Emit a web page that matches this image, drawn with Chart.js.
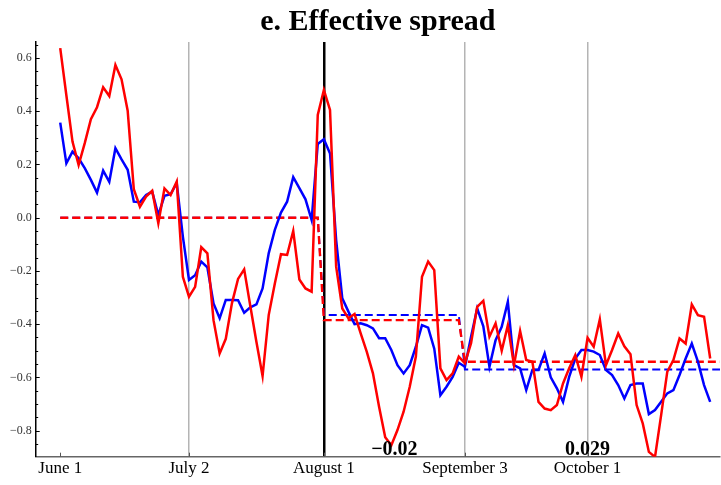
<!DOCTYPE html>
<html>
<head>
<meta charset="utf-8">
<style>
  body { margin: 0; background: #fff; }
  canvas { display: block; }
</style>
</head>
<body>
<canvas id="spreadChart" width="721" height="485"></canvas>
<script src="https://cdn.jsdelivr.net/npm/chart.js"></script>
<script>
  (() => {
    // trading-day index -> date label
    const dateTicks = [0, 21, 43, 66, 86]
    const dateLabels = ['June 1', 'July 2', 'August 1', 'September 3', 'October 1']
    const eventIdx = 43

    const redSeries = [
      0.637, 0.46, 0.286, 0.198, 0.28, 0.37, 0.415, 0.49, 0.457, 0.574,
      0.52, 0.402, 0.107, 0.041, 0.079, 0.101, -0.021, 0.11, 0.085, 0.136,
      -0.222, -0.297, -0.26, -0.111, -0.134, -0.385, -0.51, -0.455, -0.322, -0.23,
      -0.194, -0.332, -0.467, -0.595, -0.366, -0.247, -0.137, -0.14, -0.05, -0.232,
      -0.266, -0.278, 0.386, 0.48, 0.405, -0.184, -0.341, -0.378, -0.362, -0.435,
      -0.504, -0.585, -0.71, -0.825, -0.855, -0.798, -0.729, -0.635, -0.522, -0.222,
      -0.165, -0.197, -0.566, -0.61, -0.585, -0.522, -0.547, -0.472, -0.335, -0.312,
      -0.447, -0.397, -0.5, -0.404, -0.554, -0.426, -0.535, -0.541, -0.692, -0.717,
      -0.723, -0.704, -0.623, -0.566, -0.516, -0.598, -0.451, -0.485, -0.382, -0.554,
      -0.497, -0.435, -0.483, -0.513, -0.704, -0.773, -0.88, -0.899, -0.742, -0.579,
      -0.535, -0.454, -0.473, -0.326, -0.366, -0.372, -0.529
    ]
    const blueSeries = [
      0.357, 0.204, 0.248, 0.223, 0.186, 0.142, 0.094, 0.177, 0.135, 0.261,
      0.219, 0.18, 0.06, 0.058, 0.085, 0.098, 0.01, 0.082, 0.088, 0.13,
      -0.071, -0.234, -0.216, -0.165, -0.187, -0.322, -0.378, -0.309, -0.309, -0.31,
      -0.357, -0.337, -0.326, -0.266, -0.134, -0.046, 0.019, 0.06, 0.152, 0.111,
      0.069, -0.009, 0.277, 0.295, 0.241, -0.084, -0.303, -0.353, -0.4, -0.397,
      -0.404, -0.416, -0.453, -0.453, -0.497, -0.554, -0.585, -0.554, -0.485, -0.404,
      -0.413, -0.492, -0.667, -0.635, -0.598, -0.545, -0.56, -0.447, -0.341, -0.408,
      -0.56, -0.46, -0.41, -0.316, -0.554, -0.566, -0.648, -0.572, -0.572, -0.51,
      -0.6, -0.641, -0.692, -0.598, -0.529, -0.497, -0.497, -0.503, -0.516, -0.572,
      -0.591, -0.629, -0.679, -0.629, -0.623, -0.623, -0.738, -0.723, -0.692, -0.66,
      -0.648, -0.591, -0.529, -0.473, -0.541, -0.629, -0.692
    ]

    // period means (dashed): periods end at these indexes
    const periodEnds = [42, 65]
    const redMeans = [0, -0.385, -0.541]
    const blueMeans = [0, -0.366, -0.570]

    // numbers written near the bottom
    const noteTexts = ['\u22120.02', '0.029']
    const noteIdx = [54.5, 86]

    const xMin = -4, xMax = 107.6
    const yMin = -0.898, yMax = 0.66

    const toPts = arr => arr.map((v, i) => ({ x: i, y: v }))
    const meanPts = means => {
      const pts = redSeries.map((_, i) => {
        let p = 0
        while (p < periodEnds.length && i > periodEnds[p]) p++
        return { x: i, y: means[p] }
      })
      pts.push({ x: xMax, y: means[means.length - 1] })
      return pts
    }

    const fmt = v => {
      const s = Math.abs(v).toFixed(1)
      return v < -1e-9 ? '\u2212' + s : s
    }

    const decor = {
      id: 'decor',
      afterDraw(chart) {
        const { ctx, chartArea: a, scales: { x, y } } = chart
        ctx.save()
        // inner ticks on y axis
        ctx.strokeStyle = '#000'
        ctx.lineWidth = 1
        for (let k = -17; k <= 13; k++) {
          const v = k * 0.05
          const py = Math.round(y.getPixelForValue(v)) + 0.5
          const major = k % 4 === 0
          ctx.beginPath()
          ctx.moveTo(a.left, py)
          ctx.lineTo(a.left + (major ? 4 : 2.5), py)
          ctx.stroke()
        }
        // inner ticks on x axis
        ctx.strokeStyle = '#555'
        dateTicks.forEach(t => {
          const px = Math.round(x.getPixelForValue(t)) + 0.5
          ctx.beginPath()
          ctx.moveTo(px, a.bottom)
          ctx.lineTo(px, a.bottom - 4)
          ctx.stroke()
        })
        // title
        ctx.fillStyle = '#000'
        ctx.font = 'bold 30px "Liberation Serif", "DejaVu Serif", serif'
        ctx.textAlign = 'center'
        ctx.textBaseline = 'alphabetic'
        ctx.fillText('e. Effective spread', (a.left + a.right) / 2, 30)
        // notes
        ctx.font = 'bold 20px "Liberation Serif", "DejaVu Serif", serif'
        noteTexts.forEach((t, i) => {
          ctx.fillText(t, x.getPixelForValue(noteIdx[i]), a.bottom - 2)
        })
        ctx.restore()
      }
    }

    const canvas = document.getElementById('spreadChart')
    const chart = new Chart(canvas.getContext('2d'), {
      type: 'line',
      data: {
        datasets: [
          { label: 'red', data: toPts(redSeries), borderColor: '#ff0000', borderWidth: 2.5, order: 0 },
          { label: 'blue', data: toPts(blueSeries), borderColor: '#0000ff', borderWidth: 2.5, order: 1 },
          { label: 'red mean', data: meanPts(redMeans), borderColor: '#ff0000', borderWidth: 2.4, borderDash: [8, 4], order: 2 },
          { label: 'blue mean', data: meanPts(blueMeans), borderColor: '#0000ff', borderWidth: 2, borderDash: [8, 4], order: 3 }
        ]
      },
      options: {
        responsive: false,
        animation: false,
        layout: { padding: { top: 42, right: 1, left: 0, bottom: 0 } },
        elements: { point: { radius: 0 }, line: { tension: 0, borderCapStyle: 'butt' } },
        plugins: {
          legend: { display: false },
          tooltip: { enabled: false }
        },
        scales: {
          x: {
            type: 'linear',
            min: xMin,
            max: xMax,
            afterFit: s => { s.height = 28.3 },
            afterBuildTicks: s => { s.ticks = dateTicks.map(v => ({ value: v })) },
            ticks: {
              autoSkip: false,
              maxRotation: 0,
              padding: 2,
              color: '#000',
              font: { family: '"Liberation Serif", "DejaVu Serif", serif', size: 17 },
              callback: v => dateLabels[dateTicks.indexOf(v)] ?? ''
            },
            grid: {
              drawTicks: false,
              color: c => c.tick && c.tick.value === dateTicks[0] ? 'rgba(0,0,0,0)'
                : (c.tick && c.tick.value === eventIdx ? '#000' : '#b4b4b4'),
              lineWidth: c => c.tick && c.tick.value === eventIdx ? 2.5 : 1.5
            },
            border: { display: true, color: '#666', width: 1.5 }
          },
          y: {
            min: yMin,
            max: yMax,
            afterFit: s => { s.width = 35.7 },
            afterBuildTicks: s => {
              s.ticks = [-0.8, -0.6, -0.4, -0.2, 0, 0.2, 0.4, 0.6].map(v => ({ value: v }))
            },
            ticks: {
              padding: 4,
              color: '#333',
              font: { family: '"Liberation Serif", "DejaVu Serif", serif', size: 12 },
              callback: v => fmt(v)
            },
            grid: { display: false, drawTicks: false },
            border: { display: true, color: '#000', width: 1.5 }
          }
        }
      },
      plugins: [decor]
    })
  })()
</script>
</body>
</html>
